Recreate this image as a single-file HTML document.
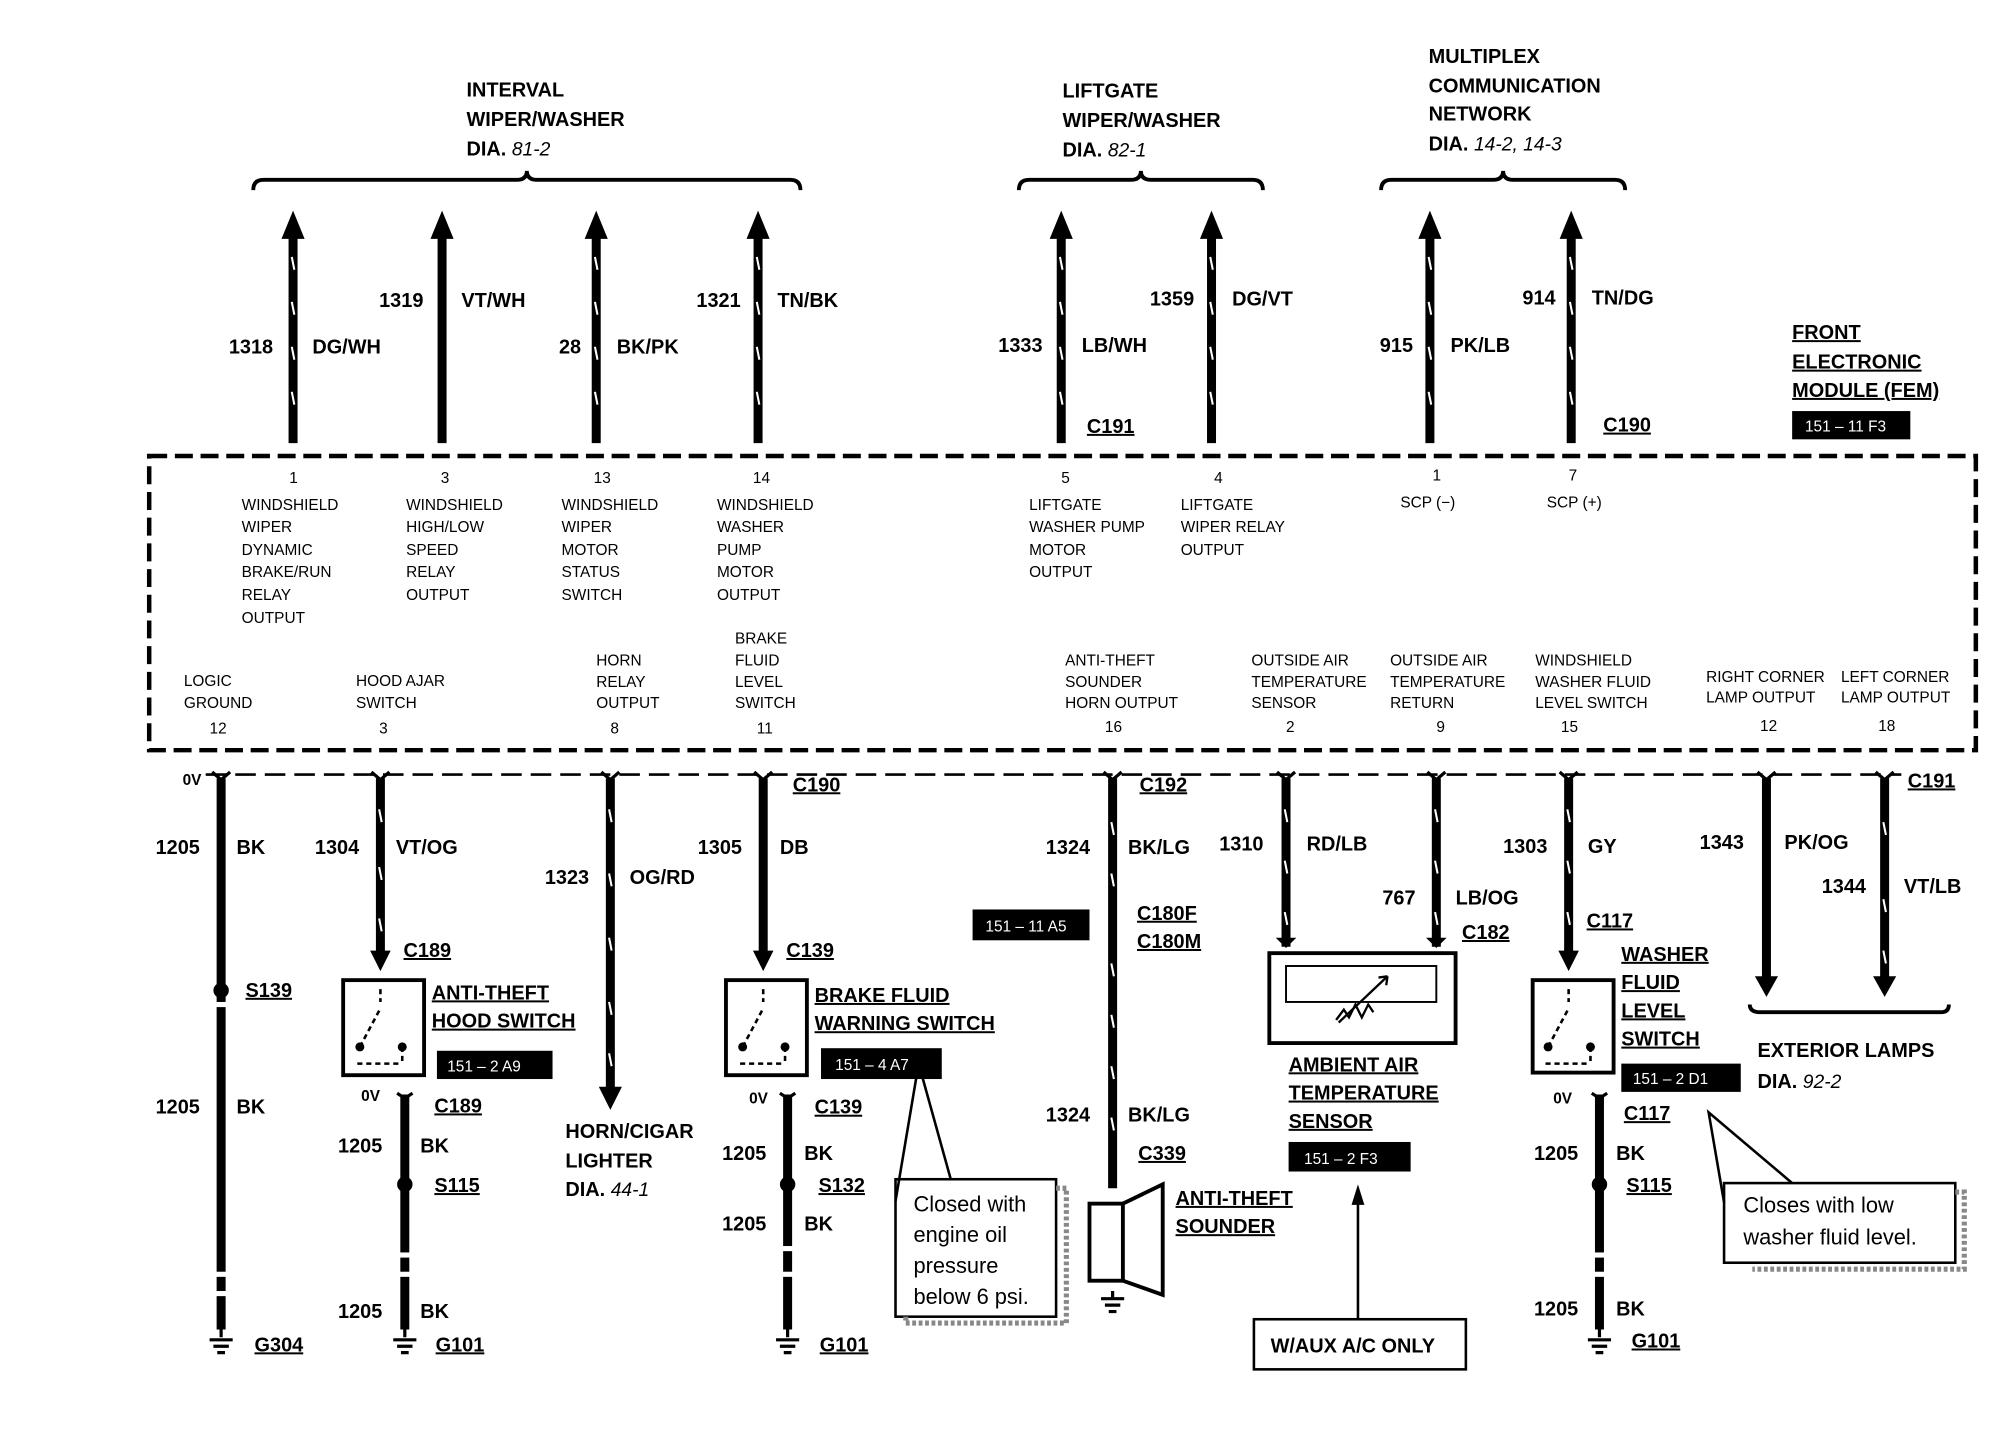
<!DOCTYPE html>
<html><head><meta charset="utf-8"><style>
html,body{margin:0;padding:0;background:#fff;}
svg{display:block;}
text{font-family:"Liberation Sans",Arial,sans-serif;fill:#000;}
.b{font-weight:bold;font-size:15.5px;}
.s{font-size:12px;}
.w{stroke:#000;stroke-width:7;fill:none;}
.t{stroke:#fff;stroke-width:1.6;}
</style></head><body>
<svg width="1994" height="1440" viewBox="0 0 1552 1121" xmlns="http://www.w3.org/2000/svg">
<!-- headers -->
<g class="b">
<text x="363" y="75">INTERVAL</text><text x="363" y="98">WIPER/WASHER</text><text x="363" y="121">DIA. <tspan font-weight="normal" font-style="italic" font-size="15">81-2</tspan></text>
<text x="827" y="76">LIFTGATE</text><text x="827" y="99">WIPER/WASHER</text><text x="827" y="122">DIA. <tspan font-weight="normal" font-style="italic" font-size="15">82-1</tspan></text>
<text x="1112" y="49">MULTIPLEX</text><text x="1112" y="72">COMMUNICATION</text><text x="1112" y="94">NETWORK</text><text x="1112" y="117">DIA. <tspan font-weight="normal" font-style="italic" font-size="15">14-2, 14-3</tspan></text>
<text x="1395" y="264" text-decoration="underline">FRONT</text><text x="1395" y="287" text-decoration="underline">ELECTRONIC</text><text x="1395" y="309" text-decoration="underline">MODULE (FEM)</text>
</g>
<rect x="1395" y="320" width="92" height="22"/><text x="1405" y="336" class="s" style="fill:#fff">151 – 11 F3</text>
<!-- brackets -->
<g stroke="#000" stroke-width="3" fill="none">
<path d="M197,148 Q197,140 205,140 L402,140 Q410,140 410,133 Q410,140 418,140 L615,140 Q623,140 623,148"/>
<path d="M793,148 Q793,140 801,140 L880,140 Q888,140 888,133 Q888,140 896,140 L975,140 Q983,140 983,148"/>
<path d="M1075,148 Q1075,140 1083,140 L1162,140 Q1170,140 1170,133 Q1170,140 1178,140 L1257,140 Q1265,140 1265,148"/>
<path d="M1362,782 Q1362,788 1370,788 L1511,788 Q1517,788 1517,782"/>
</g>
<!-- up arrows -->
<g class="w">
<line x1="228" y1="345" x2="228" y2="180"/><line x1="344" y1="345" x2="344" y2="180"/><line x1="464" y1="345" x2="464" y2="180"/><line x1="590" y1="345" x2="590" y2="180"/>
<line x1="826" y1="345" x2="826" y2="180"/><line x1="943" y1="345" x2="943" y2="180"/><line x1="1113" y1="345" x2="1113" y2="180"/><line x1="1223" y1="345" x2="1223" y2="180"/>
</g>
<g>
<path d="M219,186 L228,164 L237,186Z"/><path d="M335,186 L344,164 L353,186Z"/><path d="M455,186 L464,164 L473,186Z"/><path d="M581,186 L590,164 L599,186Z"/>
<path d="M817,186 L826,164 L835,186Z"/><path d="M934,186 L943,164 L952,186Z"/><path d="M1104,186 L1113,164 L1122,186Z"/><path d="M1214,186 L1223,164 L1232,186Z"/>
</g>
<g class="t">
<path d="M227,200 l2,10 M227,235 l2,10 M227,270 l2,10 M227,305 l2,10"/>
<path d="M463,200 l2,10 M463,235 l2,10 M463,270 l2,10 M463,305 l2,10"/>
<path d="M589,200 l2,10 M589,235 l2,10 M589,270 l2,10 M589,305 l2,10"/>
<path d="M825,200 l2,10 M825,235 l2,10 M825,270 l2,10 M825,305 l2,10"/>
<path d="M942,200 l2,10 M942,235 l2,10 M942,270 l2,10 M942,305 l2,10"/>
<path d="M1112,200 l2,10 M1112,235 l2,10 M1112,270 l2,10 M1112,305 l2,10"/>
<path d="M1222,200 l2,10 M1222,235 l2,10 M1222,270 l2,10 M1222,305 l2,10"/>
</g>
<g class="b">
<text x="178" y="275">1318</text><text x="243" y="275">DG/WH</text>
<text x="295" y="239">1319</text><text x="359" y="239">VT/WH</text>
<text x="435" y="275">28</text><text x="480" y="275">BK/PK</text>
<text x="542" y="239">1321</text><text x="605" y="239">TN/BK</text>
<text x="777" y="274">1333</text><text x="842" y="274">LB/WH</text>
<text x="895" y="238">1359</text><text x="959" y="238">DG/VT</text>
<text x="1074" y="274">915</text><text x="1129" y="274">PK/LB</text>
<text x="1185" y="237">914</text><text x="1239" y="237">TN/DG</text>
<text x="846" y="337" text-decoration="underline">C191</text>
<text x="1248" y="336" text-decoration="underline">C190</text>
</g>
<!-- FEM box -->
<rect x="116" y="355" width="1422" height="229" fill="none" stroke="#000" stroke-width="3.5" stroke-dasharray="14,6"/>
<g class="s">
<text x="225" y="376">1</text><text x="343" y="376">3</text><text x="462" y="376">13</text><text x="586" y="376">14</text><text x="826" y="376">5</text><text x="945" y="376">4</text><text x="1115" y="374">1</text><text x="1221" y="374">7</text>
<text x="188" y="397">WINDSHIELD</text><text x="188" y="414">WIPER</text><text x="188" y="432">DYNAMIC</text><text x="188" y="449">BRAKE/RUN</text><text x="188" y="467">RELAY</text><text x="188" y="485">OUTPUT</text>
<text x="316" y="397">WINDSHIELD</text><text x="316" y="414">HIGH/LOW</text><text x="316" y="432">SPEED</text><text x="316" y="449">RELAY</text><text x="316" y="467">OUTPUT</text>
<text x="437" y="397">WINDSHIELD</text><text x="437" y="414">WIPER</text><text x="437" y="432">MOTOR</text><text x="437" y="449">STATUS</text><text x="437" y="467">SWITCH</text>
<text x="558" y="397">WINDSHIELD</text><text x="558" y="414">WASHER</text><text x="558" y="432">PUMP</text><text x="558" y="449">MOTOR</text><text x="558" y="467">OUTPUT</text>
<text x="801" y="397">LIFTGATE</text><text x="801" y="414">WASHER PUMP</text><text x="801" y="432">MOTOR</text><text x="801" y="449">OUTPUT</text>
<text x="919" y="397">LIFTGATE</text><text x="919" y="414">WIPER RELAY</text><text x="919" y="432">OUTPUT</text>
<text x="1090" y="395">SCP (−)</text><text x="1204" y="395">SCP (+)</text>
<text x="143" y="534">LOGIC</text><text x="143" y="551">GROUND</text><text x="163" y="571">12</text>
<text x="277" y="534">HOOD AJAR</text><text x="277" y="551">SWITCH</text><text x="295" y="571">3</text>
<text x="464" y="518">HORN</text><text x="464" y="535">RELAY</text><text x="464" y="551">OUTPUT</text><text x="475" y="571">8</text>
<text x="572" y="501">BRAKE</text><text x="572" y="518">FLUID</text><text x="572" y="535">LEVEL</text><text x="572" y="551">SWITCH</text><text x="589" y="571">11</text>
<text x="829" y="518">ANTI-THEFT</text><text x="829" y="535">SOUNDER</text><text x="829" y="551">HORN OUTPUT</text><text x="860" y="570">16</text>
<text x="974" y="518">OUTSIDE AIR</text><text x="974" y="535">TEMPERATURE</text><text x="974" y="551">SENSOR</text><text x="1001" y="570">2</text>
<text x="1082" y="518">OUTSIDE AIR</text><text x="1082" y="535">TEMPERATURE</text><text x="1082" y="551">RETURN</text><text x="1118" y="570">9</text>
<text x="1195" y="518">WINDSHIELD</text><text x="1195" y="535">WASHER FLUID</text><text x="1195" y="551">LEVEL SWITCH</text><text x="1215" y="570">15</text>
<text x="1328" y="531">RIGHT CORNER</text><text x="1328" y="547">LAMP OUTPUT</text><text x="1370" y="569">12</text>
<text x="1433" y="531">LEFT CORNER</text><text x="1433" y="547">LAMP OUTPUT</text><text x="1462" y="569">18</text>
</g>
<!-- bus dashed line -->
<line x1="160" y1="603" x2="1480" y2="603" stroke="#000" stroke-width="2" stroke-dasharray="16,7"/>
<!-- lower wires -->
<g class="w">
<line x1="172" y1="606" x2="172" y2="1035"/>
<line x1="296" y1="606" x2="296" y2="742"/>
<line x1="475" y1="606" x2="475" y2="850"/>
<line x1="594" y1="606" x2="594" y2="742"/>
<line x1="866" y1="606" x2="866" y2="925"/>
<line x1="1001" y1="606" x2="1001" y2="737"/>
<line x1="1118" y1="606" x2="1118" y2="737"/>
<line x1="1221" y1="606" x2="1221" y2="742"/>
<line x1="1375" y1="606" x2="1375" y2="762"/>
<line x1="1467" y1="606" x2="1467" y2="762"/>
<line x1="315" y1="852" x2="315" y2="1035"/>
<line x1="613" y1="852" x2="613" y2="1035"/>
<line x1="1245" y1="852" x2="1245" y2="1035"/>
</g>
<g stroke="#000" stroke-width="2.5" fill="none">
<path d="M165,601 L172,607 L179,601 M289,601 L296,607 L303,601 M468,601 L475,607 L482,601 M587,601 L594,607 L601,601 M859,601 L866,607 L873,601 M994,601 L1001,607 L1008,601 M1111,601 L1118,607 L1125,601 M1214,601 L1221,607 L1228,601 M1368,601 L1375,607 L1382,601 M1460,601 L1467,607 L1474,601"/>
<path d="M309,851 L315,855 L321,851 M607,851 L613,855 L619,851 M1239,851 L1245,855 L1251,851"/>
</g>
<!-- down arrowheads -->
<g>
<path d="M288,740 L296,756 L304,740Z"/><path d="M586,740 L594,756 L602,740Z"/><path d="M1213,740 L1221,756 L1229,740Z"/>
<path d="M466,846 L475,864 L484,846Z"/><path d="M1366,760 L1375,776 L1384,760Z"/><path d="M1458,760 L1467,776 L1476,760Z"/>
<path d="M993,730 L1001,738 L1009,730Z"/><path d="M1110,730 L1118,738 L1126,730Z"/>
</g>
<g class="t">
<path d="M295,630 l2,10 M295,675 l2,10 M295,715 l2,10"/>
<path d="M474,630 l2,10 M474,680 l2,10 M474,730 l2,10 M474,780 l2,10 M474,820 l2,10"/>
<path d="M865,640 l2,10 M865,680 l2,10 M865,750 l2,10 M865,790 l2,10 M865,830 l2,10 M865,870 l2,10"/>
<path d="M1000,630 l2,10 M1000,670 l2,10 M1000,710 l2,10"/>
<path d="M1117,630 l2,10 M1117,670 l2,10 M1117,710 l2,10"/>
<path d="M1220,630 l2,10 M1220,670 l2,10 M1220,710 l2,10"/>
<path d="M1466,640 l2,10 M1466,700 l2,10 M1466,740 l2,10"/>
</g>
<g fill="#fff">
<rect x="166" y="780" width="12" height="4"/><rect x="166" y="990" width="12" height="4"/><rect x="166" y="1005" width="12" height="4"/>
<rect x="309" y="975" width="12" height="4"/><rect x="309" y="990" width="12" height="4"/>
<rect x="607" y="970" width="12" height="4"/><rect x="607" y="990" width="12" height="4"/>
<rect x="1239" y="975" width="12" height="4"/><rect x="1239" y="990" width="12" height="4"/>
</g>
<circle cx="172" cy="771" r="6"/><circle cx="315" cy="922" r="6"/><circle cx="613" cy="922" r="6"/><circle cx="1245" cy="922" r="6"/>
<g stroke="#000" stroke-width="2.5">
<path d="M172,1035 v6 M163,1043 h18 M166,1048 h12 M169,1053 h6"/>
<path d="M315,1035 v6 M306,1043 h18 M309,1048 h12 M312,1053 h6"/>
<path d="M613,1035 v6 M604,1043 h18 M607,1048 h12 M610,1053 h6"/>
<path d="M1245,1035 v6 M1236,1043 h18 M1239,1048 h12 M1242,1053 h6"/>
<path d="M866,1005 v6 M857,1011 h18 M860,1016 h12 M863,1021 h6"/>
</g>
<g stroke="#000" fill="none">
<rect x="267" y="763" width="63" height="74" stroke-width="3"/>
<rect x="565" y="763" width="63" height="74" stroke-width="3"/>
<rect x="1193" y="763" width="63" height="72" stroke-width="3"/>
<g stroke-width="2">
<path d="M296,770 v10 M280,815 L296,785 M313,815 v12 M278,828 h35" stroke-dasharray="4,3"/>
<path d="M594,770 v10 M578,815 L594,785 M611,815 v12 M576,828 h35" stroke-dasharray="4,3"/>
<path d="M1221,770 v10 M1205,815 L1221,785 M1238,815 v12 M1203,828 h35" stroke-dasharray="4,3"/>
</g>
</g>
<circle cx="280" cy="815" r="3.5"/><circle cx="313" cy="815" r="3.5"/>
<circle cx="578" cy="815" r="3.5"/><circle cx="611" cy="815" r="3.5"/>
<circle cx="1205" cy="815" r="3.5"/><circle cx="1238" cy="815" r="3.5"/>
<rect x="988" y="742" width="145" height="70" fill="none" stroke="#000" stroke-width="3"/>
<rect x="1001" y="752" width="117" height="28" fill="none" stroke="#000" stroke-width="1.5"/>
<path d="M1040,794 l6,-8 l4,6 l5,-10 l5,10 l5,-10 l4,6 M1042,796 L1080,760 M1080,760 l-7,1 M1080,760 l-1,7" stroke="#000" stroke-width="1.8" fill="none"/>
<g stroke="#000" stroke-width="3" fill="none"><rect x="848" y="937" width="26" height="60"/><path d="M874,937 L905,922 L905,1008 L874,997"/></g>
<g>
<rect x="340" y="818" width="90" height="22"/><rect x="639" y="816" width="94" height="24"/><rect x="757" y="708" width="91" height="24"/><rect x="1003" y="889" width="95" height="23"/><rect x="1262" y="828" width="93" height="22"/>
</g>
<g class="s">
<text x="348" y="834" style="fill:#fff">151 – 2 A9</text><text x="650" y="833" style="fill:#fff">151 – 4 A7</text><text x="767" y="725" style="fill:#fff">151 – 11 A5</text><text x="1015" y="906" style="fill:#fff">151 – 2 F3</text><text x="1271" y="844" style="fill:#fff">151 – 2 D1</text>
</g>
<rect x="697" y="918" width="125" height="107" fill="#fff" stroke="#000" stroke-width="2"/>
<path d="M822,925 h8 v105 h-125 v-5" stroke="#888" stroke-width="4" fill="none" stroke-dasharray="3,2"/>
<path d="M740,918 L715,828 L697,935" stroke="#000" stroke-width="2" fill="none"/>
<g font-size="17"><text x="711" y="943">Closed with</text><text x="711" y="967">engine oil</text><text x="711" y="991">pressure</text><text x="711" y="1015">below 6 psi.</text></g>
<rect x="1342" y="921" width="180" height="62" fill="#fff" stroke="#000" stroke-width="2"/>
<path d="M1522,928 h7 v60 h-165" stroke="#888" stroke-width="4" fill="none" stroke-dasharray="3,2"/>
<path d="M1342,936 L1330,866 L1395,921" stroke="#000" stroke-width="2" fill="none"/>
<g font-size="17"><text x="1357" y="944">Closes with low</text><text x="1357" y="969">washer fluid level.</text></g>
<rect x="976" y="1027" width="165" height="39" fill="none" stroke="#000" stroke-width="2"/>
<text x="989" y="1053" class="b">W/AUX A/C ONLY</text>
<line x1="1057" y1="1027" x2="1057" y2="935" stroke="#000" stroke-width="2"/><path d="M1052,938 L1057,922 L1062,938Z"/>
<g class="b">
<text x="142" y="611" font-size="12">0V</text>
<text x="121" y="665">1205</text><text x="184" y="665">BK</text>
<text x="191" y="776" text-decoration="underline">S139</text>
<text x="121" y="867">1205</text><text x="184" y="867">BK</text>
<text x="198" y="1052" text-decoration="underline">G304</text>
<text x="245" y="665">1304</text><text x="308" y="665">VT/OG</text>
<text x="314" y="745" text-decoration="underline">C189</text>
<text x="336" y="778" text-decoration="underline">ANTI-THEFT</text><text x="336" y="800" text-decoration="underline">HOOD SWITCH</text>
<text x="281" y="857" font-size="12">0V</text>
<text x="338" y="866" text-decoration="underline">C189</text>
<text x="263" y="897">1205</text><text x="327" y="897">BK</text>
<text x="338" y="928" text-decoration="underline">S115</text>
<text x="263" y="1026">1205</text><text x="327" y="1026">BK</text>
<text x="339" y="1052" text-decoration="underline">G101</text>
<text x="424" y="688">1323</text><text x="490" y="688">OG/RD</text>
<text x="440" y="886">HORN/CIGAR</text><text x="440" y="909">LIGHTER</text><text x="440" y="931">DIA. <tspan font-weight="normal" font-style="italic" font-size="15">44-1</tspan></text>
<text x="617" y="616" text-decoration="underline">C190</text>
<text x="543" y="665">1305</text><text x="607" y="665">DB</text>
<text x="612" y="745" text-decoration="underline">C139</text>
<text x="634" y="780" text-decoration="underline">BRAKE FLUID</text><text x="634" y="802" text-decoration="underline">WARNING SWITCH</text>
<text x="583" y="859" font-size="12">0V</text>
<text x="634" y="867" text-decoration="underline">C139</text>
<text x="562" y="903">1205</text><text x="626" y="903">BK</text>
<text x="637" y="928" text-decoration="underline">S132</text>
<text x="562" y="958">1205</text><text x="626" y="958">BK</text>
<text x="638" y="1052" text-decoration="underline">G101</text>
<text x="887" y="616" text-decoration="underline">C192</text>
<text x="814" y="665">1324</text><text x="878" y="665">BK/LG</text>
<text x="885" y="716" text-decoration="underline">C180F</text><text x="885" y="738" text-decoration="underline">C180M</text>
<text x="814" y="873">1324</text><text x="878" y="873">BK/LG</text>
<text x="886" y="903" text-decoration="underline">C339</text>
<text x="915" y="938" text-decoration="underline">ANTI-THEFT</text><text x="915" y="960" text-decoration="underline">SOUNDER</text>
<text x="949" y="662">1310</text><text x="1017" y="662">RD/LB</text>
<text x="1076" y="704">767</text><text x="1133" y="704">LB/OG</text>
<text x="1138" y="731" text-decoration="underline">C182</text>
<text x="1003" y="834" text-decoration="underline">AMBIENT AIR</text><text x="1003" y="856" text-decoration="underline">TEMPERATURE</text><text x="1003" y="878" text-decoration="underline">SENSOR</text>
<text x="1170" y="664">1303</text><text x="1236" y="664">GY</text>
<text x="1235" y="722" text-decoration="underline">C117</text>
<text x="1262" y="748" text-decoration="underline">WASHER</text><text x="1262" y="770" text-decoration="underline">FLUID</text><text x="1262" y="792" text-decoration="underline">LEVEL</text><text x="1262" y="814" text-decoration="underline">SWITCH</text>
<text x="1209" y="859" font-size="12">0V</text>
<text x="1264" y="872" text-decoration="underline">C117</text>
<text x="1194" y="903">1205</text><text x="1258" y="903">BK</text>
<text x="1266" y="928" text-decoration="underline">S115</text>
<text x="1194" y="1024">1205</text><text x="1258" y="1024">BK</text>
<text x="1270" y="1049" text-decoration="underline">G101</text>
<text x="1323" y="661">1343</text><text x="1389" y="661">PK/OG</text>
<text x="1485" y="613" text-decoration="underline">C191</text>
<text x="1418" y="695">1344</text><text x="1482" y="695">VT/LB</text>
<text x="1368" y="823">EXTERIOR LAMPS</text><text x="1368" y="847">DIA. <tspan font-weight="normal" font-style="italic" font-size="15">92-2</tspan></text>
</g>
</svg>
</body></html>
